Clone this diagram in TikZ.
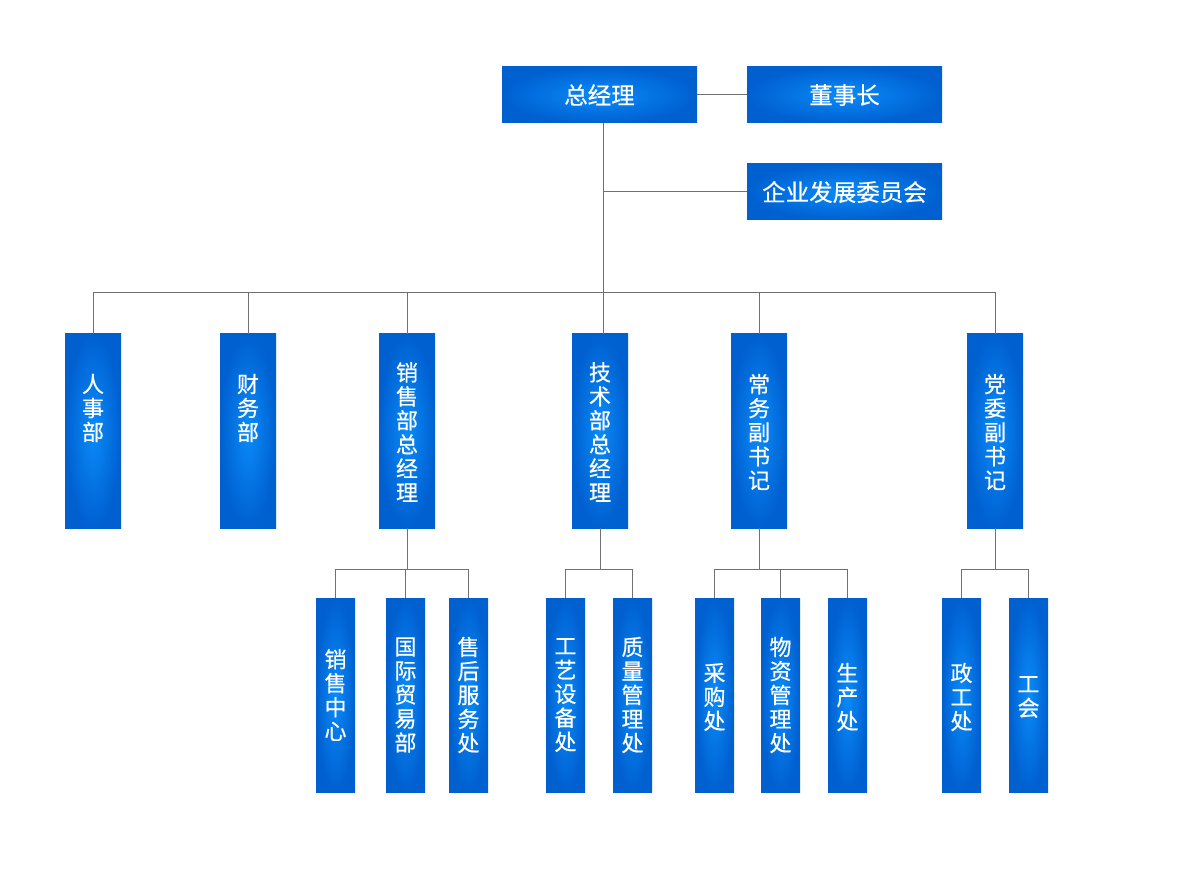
\documentclass[tikz,border=0pt]{standalone}
\usepackage{fontspec}
\setmainfont{Noto Sans CJK SC}[FakeBold=0.5]
\definecolor{boxin}{HTML}{0A8BF9}
\definecolor{boxout}{HTML}{0060D0}
\definecolor{connc}{HTML}{707070}
\tikzset{
  box/.style={rectangle, inner color=boxin, outer color=boxout, inner sep=0pt, draw=none},
  hbox/.style={box, minimum width=195pt, minimum height=56pt, text=white, font=\fontsize{23.5pt}{24pt}\selectfont},
  vbox/.style={box, minimum width=56pt, minimum height=194pt},
  sbox/.style={box, minimum width=39pt, minimum height=194pt},
  lbl/.style={text=white, font=\fontsize{22pt}{24pt}\selectfont, align=center, inner sep=0pt},
  conn/.style={draw=connc, line width=1pt}
}
\begin{document}
\begin{tikzpicture}[x=1pt,y=-1pt]
\fill[white] (0,0) rectangle (1200,874);
\useasboundingbox (0,0) rectangle (1200,874);
% top
\node[hbox] (zjl) at (599.5,95) {总经理};
\node[hbox] (dsz) at (844.5,95) {董事长};
\node[hbox] (wyh) at (844.5,192) {企业发展委员会};
% top row boxes
\node[vbox] (rsb) at (93,431) {};
\node[vbox] (cwb) at (248,431) {};
\node[vbox] (xsb) at (407,431) {};
\node[vbox] (jsb) at (600,431) {};
\node[vbox] (cw) at (759,431) {};
\node[vbox] (dw) at (995,431) {};
\node[lbl] (trsb) at (93,408) {人\\事\\部};
\node[lbl] (tcwb) at (248,408) {财\\务\\部};
\node[lbl] (txsb) at (407,432) {销\\售\\部\\总\\经\\理};
\node[lbl] (tjsb) at (600,432) {技\\术\\部\\总\\经\\理};
\node[lbl] (tcw) at (759,432) {常\\务\\副\\书\\记};
\node[lbl] (tdw) at (995,432) {党\\委\\副\\书\\记};
% bottom row boxes
\node[sbox] (xszx) at (335.5,695) {};
\node[sbox] (gjmy) at (405.5,695) {};
\node[sbox] (shfw) at (468.5,695) {};
\node[sbox] (gysb) at (565.5,695) {};
\node[sbox] (zlgl) at (632.5,695) {};
\node[sbox] (cgc) at (714.5,695) {};
\node[sbox] (wzgl) at (780.5,695) {};
\node[sbox] (scc) at (847.5,695) {};
\node[sbox] (zgc) at (961.5,695) {};
\node[sbox] (gh) at (1028.5,695) {};
\node[lbl] (txszx) at (335.5,695) {销\\售\\中\\心};
\node[lbl] (tgjmy) at (405.5,695) {国\\际\\贸\\易\\部};
\node[lbl] (tshfw) at (468.5,695) {售\\后\\服\\务\\处};
\node[lbl] (tgysb) at (565.5,695) {工\\艺\\设\\备\\处};
\node[lbl] (tzlgl) at (632.5,695) {质\\量\\管\\理\\处};
\node[lbl] (tcgc) at (714.5,697) {采\\购\\处};
\node[lbl] (twzgl) at (780.5,695) {物\\资\\管\\理\\处};
\node[lbl] (tscc) at (847.5,697) {生\\产\\处};
\node[lbl] (tzgc) at (961.5,697) {政\\工\\处};
\node[lbl] (tgh) at (1028.5,697) {工\\会};
% connectors
\coordinate (bus) at (603,293);
\draw[conn] (zjl.east) -- (dsz.west);
\draw[conn] (zjl.south -| bus) -- (bus);
\draw[conn] (wyh.west) -- (wyh.west -| bus);
\draw[conn] (rsb.north) -- (rsb.north |- bus) -- (dw.north |- bus) -- (dw.north);
\draw[conn] (cwb.north) -- (cwb.north |- bus);
\draw[conn] (xsb.north) -- (xsb.north |- bus);
\draw[conn] (jsb.north -| bus) -- (bus);
\draw[conn] (cw.north) -- (cw.north |- bus);
% sub buses
\coordinate (sb) at (0,569);
\draw[conn] (xsb.south) -- (xsb.south |- sb);
\draw[conn] (xszx.north) -- (xszx.north |- sb) -- (shfw.north |- sb) -- (shfw.north);
\draw[conn] (gjmy.north) -- (gjmy.north |- sb);
\draw[conn] (jsb.south) -- (jsb.south |- sb);
\draw[conn] (gysb.north) -- (gysb.north |- sb) -- (zlgl.north |- sb) -- (zlgl.north);
\draw[conn] (cw.south) -- (cw.south |- sb);
\draw[conn] (cgc.north) -- (cgc.north |- sb) -- (scc.north |- sb) -- (scc.north);
\draw[conn] (wzgl.north) -- (wzgl.north |- sb);
\draw[conn] (dw.south) -- (dw.south |- sb);
\draw[conn] (zgc.north) -- (zgc.north |- sb) -- (gh.north |- sb) -- (gh.north);
\end{tikzpicture}
\end{document}
